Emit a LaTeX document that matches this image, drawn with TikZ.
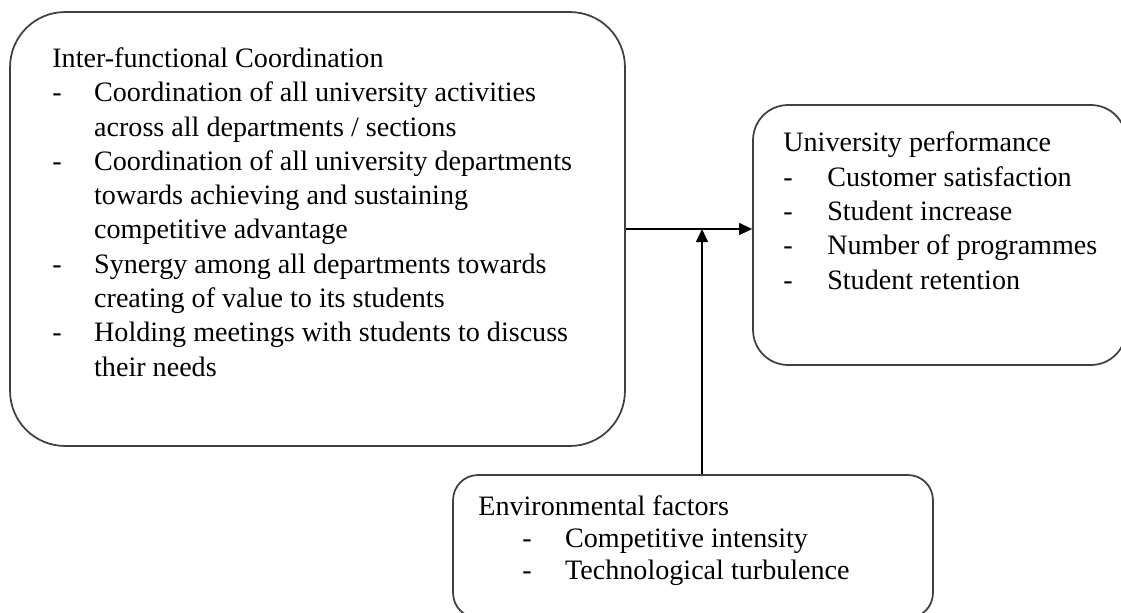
\documentclass[tikz,border=0pt]{standalone}
\usepackage{fontspec}
\setmainfont{Liberation Serif}
\usetikzlibrary{arrows.meta,positioning}

% dash followed by the item text at a fixed indent
\newcommand{\dashitem}[2]{\makebox[#1][l]{-}#2}

\tikzset{
  panel/.style={draw=black!75, line width=1pt},
  % base anchor of a multi-line node sits on its last line
  blurb/.style={inner sep=0pt, anchor=base west, align=left,
    font=\fontsize{16}{19.5}\selectfont},
  link/.style={-{Triangle[length=7.4pt,width=6.8pt]}, line width=0.7pt},
}

\begin{document}
\begin{tikzpicture}[x=0.02cm, y=-0.02cm]
\useasboundingbox (0,0) rectangle (1121,612);

% the three boxes
\node[panel, minimum width=12.3cm, minimum height=8.68cm, rounded corners=1.1cm] (coord) at (317.5,229) {};
\node[panel, minimum width=7.46cm, minimum height=5.2cm, rounded corners=0.7cm] (perf) at (939.5,235) {};
\node[panel, minimum width=9.6cm, minimum height=2.86cm, rounded corners=0.5cm] (env) at (693,546.5) {};

% their contents
\node[blurb] (coordtext) at (52,376) {Inter-functional Coordination\\
  \dashitem{23.8pt}{Coordination of all university activities}\\
  \hspace*{23.8pt}across all departments / sections\\
  \dashitem{23.8pt}{Coordination of all university departments}\\
  \hspace*{23.8pt}towards achieving and sustaining\\
  \hspace*{23.8pt}competitive advantage\\
  \dashitem{23.8pt}{Synergy among all departments towards}\\
  \hspace*{23.8pt}creating of value to its students\\
  \dashitem{23.8pt}{Holding meetings with students to discuss}\\
  \hspace*{23.8pt}their needs};
\node[blurb] (perftext) at (783,289) {University performance\\
  \dashitem{25pt}{Customer satisfaction}\\
  \dashitem{25pt}{Student increase}\\
  \dashitem{25pt}{Number of programmes}\\
  \dashitem{25pt}{Student retention}};
\node[blurb, font=\fontsize{16}{18.1}\selectfont] (envtext) at (478,579) {Environmental factors\\
  \hspace*{25pt}\dashitem{24.4pt}{Competitive intensity}\\
  \hspace*{25pt}\dashitem{24.4pt}{Technological turbulence}};

% connectors
\coordinate (meet) at (702,229);
\draw[link] (coord.east |- meet) -- (perf.west |- meet);
\draw[link] (env.north -| meet) -- (meet);
\end{tikzpicture}
\end{document}
